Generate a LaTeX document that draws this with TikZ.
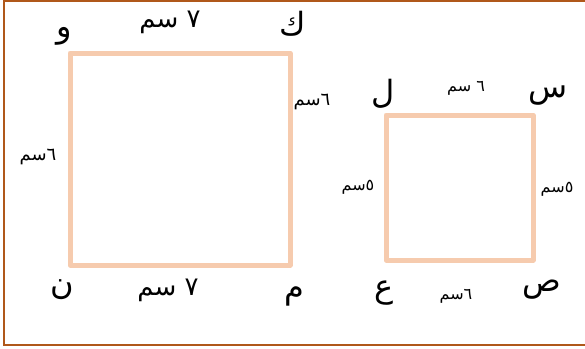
\documentclass[tikz,border=0pt]{standalone}
\usepackage{fontspec}
\newfontfamily\arabicfont[Script=Arabic]{DejaVu Sans}
\TeXXeTstate=1
\definecolor{framebrown}{HTML}{B0581A}
\definecolor{peach}{HTML}{F6CBAE}
\begin{document}
\begin{tikzpicture}[x=1pt,y=-1pt,
  sq/.style={draw=peach,line width=5pt,line join=round},
  big/.style={font=\arabicfont\fontsize{32}{34}\selectfont,inner sep=0pt},
  mid/.style={font=\arabicfont\fontsize{26}{28}\selectfont,inner sep=0pt},
  sml/.style={font=\arabicfont\fontsize{18}{20}\selectfont,inner sep=0pt},
  tiny/.style={font=\arabicfont\fontsize{16}{18}\selectfont,inner sep=0pt}]
\useasboundingbox (0,0) rectangle (585,348);
% frame
\coordinate (ftr) at (585,1);
\coordinate (ftl) at (4,1);
\coordinate (fbl) at (4,345);
\coordinate (fbr) at (585,345);
\draw[framebrown,line width=2.2pt] (ftr) -- (ftl) -- (fbl) -- (fbr);
% squares
\draw[sq] (70,53) rectangle (290,265);
\draw[sq] (386,115) rectangle (533,260);
% big square labels
\node[big] (w) at (64,36) {\beginR و\endR};
\node[mid] (t7) at (170,22) {\beginR ٧ سم\endR};
\node[big] (k) at (293,24) {\beginR ك\endR};
\node[sml] (r6) at (312,102) {\beginR ٦سم\endR};
\node[sml] (l6) at (38,157) {\beginR ٦سم\endR};
\node[big] (n) at (62,290) {\beginR ن\endR};
\node[mid] (b7) at (168,290) {\beginR ٧ سم\endR};
\node[big] (m) at (294,296) {\beginR م\endR};
% small square labels
\node[big] (l) at (383,94) {\beginR ل\endR};
\node[tiny] (t6) at (466,88) {\beginR ٦ سم\endR};
\node[big] (s) at (548,96) {\beginR س\endR};
\node[tiny] (l5) at (358,187) {\beginR ٥سم\endR};
\node[tiny] (r5) at (557,189) {\beginR ٥سم\endR};
\node[big] (a) at (384,293) {\beginR ع\endR};
\node[tiny] (b6) at (456,296) {\beginR ٦سم\endR};
\node[big] (sad) at (542,290) {\beginR ص\endR};
\end{tikzpicture}
\end{document}
